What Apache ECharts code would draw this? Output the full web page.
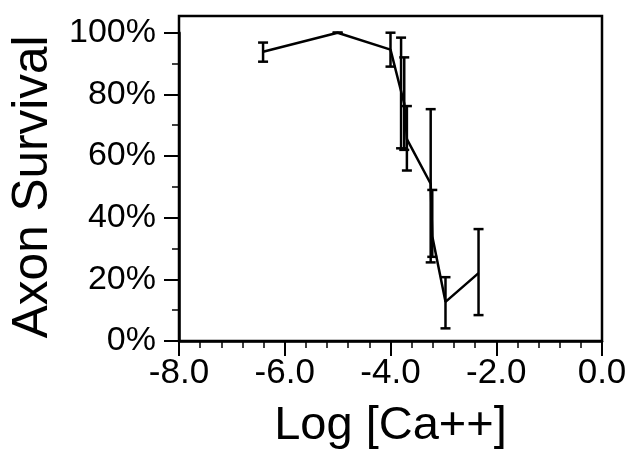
<!DOCTYPE html>
<html>
<head>
<meta charset="utf-8">
<script src="https://cdn.jsdelivr.net/npm/echarts@6/dist/echarts.min.js"></script>
<style>html,body{margin:0;padding:0;background:#fff;}#c{width:631px;height:456px;}</style>
</head>
<body>
<div id="c"></div>
<script>
// Data
const logCa = [-6.41, -5.0, -4.0, -3.80, -3.74, -3.69, -3.24, -3.21, -2.96, -2.335];
const survival = [93.8, 100, 94.5, 81, 77, 65.5, 51, 34, 12.7, 22];
const errLow = [90.6, 100, 89, 62.5, 62, 55.3, 25.5, 27.3, 4.1, 8.4];
const errHigh = [96.8, 100, 100, 98.4, 92, 76.2, 75.2, 49, 20.7, 36.3];

const FONT = "'Liberation Sans', Arial, Helvetica, sans-serif";
const lineData = logCa.map((x, i) => [x, survival[i]]);
const errData = logCa.map((x, i) => [x, errLow[i], errHigh[i]]);

const chart = echarts.init(document.getElementById('c'), null, {renderer: 'canvas'});
chart.setOption({
  animation: false,
  backgroundColor: '#fff',
  grid: [
    // data grid: 0% .. 100%
    {left: 179, right: 29, top: 32.7, bottom: 115, show: false, containLabel: false},
    // frame box (extends above 100%)
    {left: 179, right: 29, top: 16, bottom: 115, show: true, borderColor: '#000', borderWidth: 2.5, containLabel: false}
  ],
  xAxis: [{
    gridIndex: 0,
    type: 'value', min: -8, max: 0, interval: 2, position: 'bottom',
    name: 'Log [Ca++]', nameLocation: 'middle', nameGap: 62,
    nameTextStyle: {fontFamily: FONT, fontSize: 47, color: '#000'},
    axisLine: {show: true, onZero: false, lineStyle: {color: '#000', width: 2.5}},
    axisTick: {show: true, length: 15, lineStyle: {color: '#000', width: 2}},
    minorTick: {show: true, splitNumber: 5, length: 7, lineStyle: {color: '#000', width: 1.5}},
    splitLine: {show: false},
    axisLabel: {fontFamily: FONT, fontSize: 35, color: '#000', margin: 15,
      formatter: v => v.toFixed(1)}
  }, {
    gridIndex: 1, type: 'value', min: -8, max: 0, show: false
  }],
  yAxis: [{
    gridIndex: 0,
    type: 'value', min: 0, max: 100, interval: 20, position: 'left',
    name: 'Axon Survival', nameLocation: 'middle', nameGap: 116,
    nameTextStyle: {fontFamily: FONT, fontSize: 49.5, color: '#000'},
    axisLine: {show: true, onZero: false, lineStyle: {color: '#000', width: 2.5}},
    axisTick: {show: true, length: 15, lineStyle: {color: '#000', width: 2}},
    minorTick: {show: true, splitNumber: 2, length: 7, lineStyle: {color: '#000', width: 1.5}},
    splitLine: {show: false},
    axisLabel: {fontFamily: FONT, fontSize: 34, color: '#000', margin: 23,
      formatter: v => Math.round(v) + '%'}
  }, {
    gridIndex: 1, type: 'value', min: 0, max: 100, show: false
  }],
  series: [
    {
      type: 'line', data: lineData, xAxisIndex: 0, yAxisIndex: 0,
      showSymbol: false, symbol: 'none', clip: false,
      lineStyle: {color: '#000', width: 2.5}
    },
    {
      type: 'custom', xAxisIndex: 0, yAxisIndex: 0, data: errData, clip: false,
      encode: {x: 0, y: [1, 2]},
      renderItem: (params, api) => {
        const x = api.value(0), lo = api.value(1), hi = api.value(2);
        const pLo = api.coord([x, lo]);
        const pHi = api.coord([x, hi]);
        const hw = 5;
        const st = {stroke: '#000', lineWidth: 2.5};
        return {type: 'group', children: [
          {type: 'line', shape: {x1: pLo[0], y1: pLo[1], x2: pHi[0], y2: pHi[1]}, style: st},
          {type: 'line', shape: {x1: pHi[0] - hw, y1: pHi[1], x2: pHi[0] + hw, y2: pHi[1]}, style: st},
          {type: 'line', shape: {x1: pLo[0] - hw, y1: pLo[1], x2: pLo[0] + hw, y2: pLo[1]}, style: st}
        ]};
      }
    }
  ]
});
</script>
</body>
</html>
